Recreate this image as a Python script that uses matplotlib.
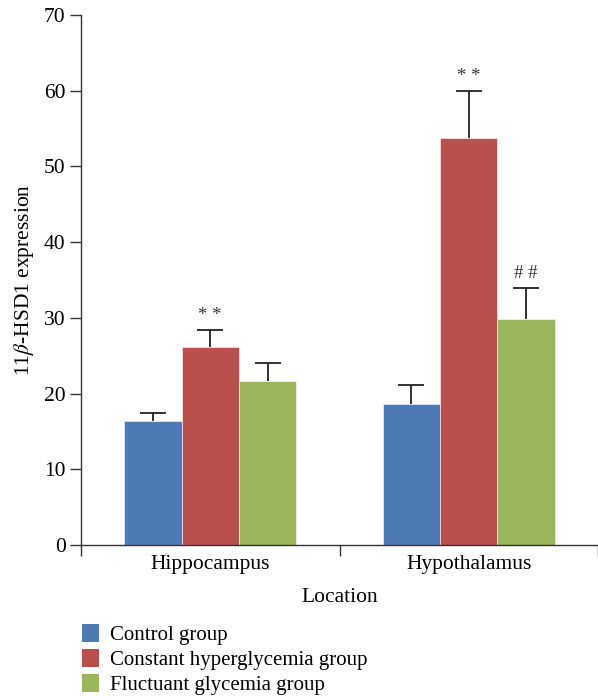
import numpy as np
import matplotlib.pyplot as plt
from matplotlib.patches import Patch

# data
locations = ['Hippocampus', 'Hypothalamus']
groups = ['Control group', 'Constant hyperglycemia group', 'Fluctuant glycemia group']
control = [16.4, 18.6]
constant = [26.1, 53.7]
fluctuant = [21.6, 29.9]
control_err = [1.0, 2.5]
constant_err = [2.3, 6.3]
fluctuant_err = [2.4, 4.1]
marks_constant = ['**', '**']
marks_fluctuant = ['', '##']

colors = ['#4d7ab4', '#b9504d', '#9ab55b']
fs = 15.5

plt.rcParams['font.family'] = ['Liberation Serif', 'DejaVu Serif']
plt.rcParams['mathtext.fontset'] = 'stix'

fig = plt.figure(figsize=(5.98, 7.0), dpi=100)
ax = fig.add_axes([81 / 598, 1 - 545 / 700, 1 - 81 / 598, (545 - 15) / 700])

x = np.arange(len(locations))
width = 0.222
series = [control, constant, fluctuant]
errs = [control_err, constant_err, fluctuant_err]
marks = [None, marks_constant, marks_fluctuant]

for k, (vals, err, col) in enumerate(zip(series, errs, colors)):
    pos = x + (k - 1) * width
    vals = np.array(vals)
    err = np.array(err)
    ax.bar(pos, vals, width, color=col, edgecolor='white', linewidth=0.4, zorder=2)
    # upper error bar only
    ax.vlines(pos, vals, vals + err, color='#222222', linewidth=1.3, zorder=3)
    ax.hlines(vals + err, pos - 0.05, pos + 0.05, color='#222222', linewidth=1.3, zorder=3)
    if marks[k] is not None:
        for p, v, e, m in zip(pos, vals, err, marks[k]):
            if m:
                ax.text(p, v + e + 0.8, ' '.join(m), ha='center', va='bottom',
                        fontsize=13.5, color='#333333')

ax.set_xlim(-0.5, 1.5)
ax.set_ylim(0, 70)
ax.set_yticks(range(0, 71, 10))
ax.set_xticks([-0.5, 0.5, 1.5])
ax.set_xticklabels([])
ax.set_xticks(x, minor=True)
ax.set_xticklabels(locations, minor=True)
ax.tick_params(axis='x', which='minor', length=0, pad=7, labelsize=fs)
ax.tick_params(axis='x', which='major', length=8, width=1, color='#333333')
ax.tick_params(axis='y', length=8, width=1, color='#333333', labelsize=fs, pad=3)

for s in ['top', 'right']:
    ax.spines[s].set_visible(False)
for s in ['left', 'bottom']:
    ax.spines[s].set_color('#333333')
    ax.spines[s].set_linewidth(1.0)

ax.set_ylabel(r'11$\it{\beta}$-HSD1 expression', fontsize=fs, labelpad=6)
ax.set_xlabel('Location', fontsize=fs, labelpad=10)

handles = [Patch(facecolor=c, edgecolor='none') for c in colors]
fig.legend(handles, groups, loc='upper left', bbox_to_anchor=(74 / 598, 1 - 616 / 700),
           frameon=False, fontsize=15, handlelength=0.8, handleheight=0.9,
           handletextpad=0.55, labelspacing=0.2, borderaxespad=0)

fig.savefig('out.png', dpi=100)
